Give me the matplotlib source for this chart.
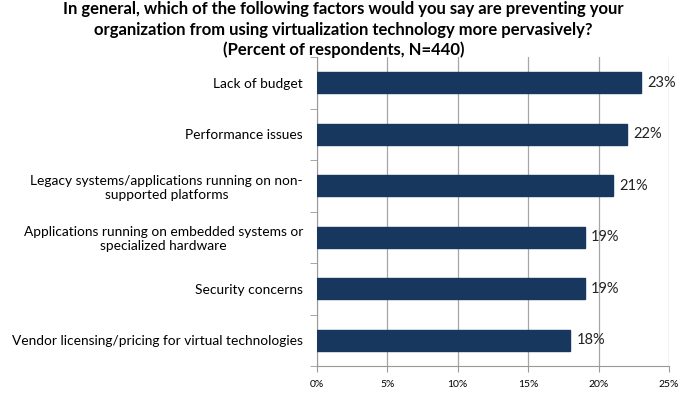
# Barriers to virtualization - horizontal bar chart
import matplotlib.pyplot as plt
import numpy as np

plt.rcParams['font.family'] = ['Lato', 'DejaVu Sans']

# categories (top to bottom) and percent values
categories = ["Lack of budget",
              "Performance issues",
              "Legacy systems/applications running on non-\nsupported platforms",
              "Applications running on embedded systems or\nspecialized hardware",
              "Security concerns",
              "Vendor licensing/pricing for virtual technologies"]
values = [23, 22, 21, 19, 19, 18]
xticks = [0, 5, 10, 15, 20, 25]

title_lines = ["In general, which of the following factors would you say are preventing your",
               "organization from using virtualization technology more pervasively?",
               "(Percent of respondents, N=440)"]

fig = plt.figure(figsize=(6.87, 4.07), dpi=100)
ax = fig.add_axes([0.4614, 0.1007, 0.5124, 0.7592])

y = np.arange(len(categories))[::-1]
ax.barh(y, values, height=0.4, color='#17375E', edgecolor='#17375E', zorder=3)
for yi, v in zip(y, values):
    ax.text(v + 0.45, yi, f"{v}%", va='center', ha='left', fontsize=10.5, color='#222222')

ax.set_xlim(0, 25)
ax.set_ylim(-0.5, len(categories) - 0.5)
ax.set_xticks(xticks)
ax.set_xticklabels([f"{t}%" for t in xticks], fontsize=7.5)
ax.set_yticks(y)
ax.set_yticklabels(categories, fontsize=9.9, ha='right', multialignment='center')
ax.set_yticks(np.arange(-0.5, len(categories), 1), minor=True)
ax.tick_params(axis='y', which='major', length=0, pad=10)
ax.tick_params(axis='y', which='minor', length=5, color='#999999')
ax.tick_params(axis='x', length=4, color='#999999', pad=6)
ax.xaxis.grid(True, color='#a6a6a6', linewidth=0.9, zorder=0)
for s in ['top', 'right']:
    ax.spines[s].set_visible(False)
for s in ['left', 'bottom']:
    ax.spines[s].set_color('#999999')

ys = [0.977, 0.927, 0.878]
for line, yy in zip(title_lines, ys):
    fig.text(0.5, yy, line, ha='center', va='center', fontsize=12, fontweight='bold')

fig.savefig('out.png', dpi=100)
